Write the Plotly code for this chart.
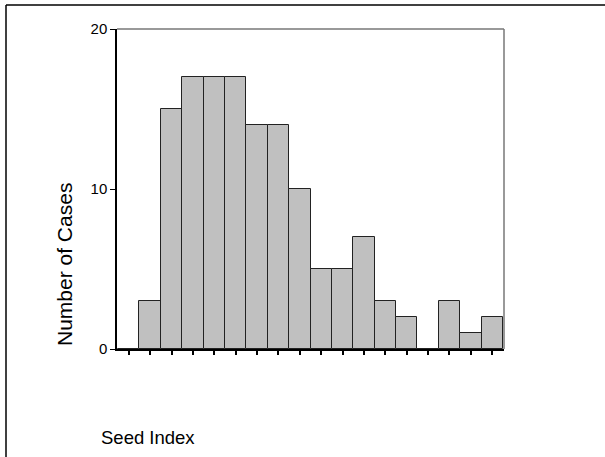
import plotly.graph_objects as go

# histogram counts per bin (Seed Index)
bins = list(range(18))
counts = [0, 3, 15, 17, 17, 17, 14, 14, 10, 5, 5, 7, 3, 2, 0, 3, 1, 2]
y_ticks = [0, 10, 20]

# plot area in pixels
L, R, T, B = 117, 504, 29, 349
W, H = 605, 457
pw, ph = R - L, B - T

def px(x):
    return (x - L) / pw

def py(y):
    return (B - y) / ph

fig = go.Figure()
fig.add_trace(go.Bar(
    x=bins, y=counts, width=1,
    marker=dict(color="#C0C0C0", line=dict(color="#222222", width=1)),
    showlegend=False, hoverinfo="y",
))

fig.update_layout(
    width=W, height=H,
    margin=dict(l=L, r=W - R, t=T, b=H - B, pad=0),
    paper_bgcolor="white", plot_bgcolor="white",
    font=dict(family="Liberation Sans, Arial", color="black", size=15),
    bargap=0,
    xaxis=dict(
        range=[-0.55, 17.55], tickvals=bins, ticktext=[""] * len(bins),
        ticks="outside", ticklen=4, tickwidth=1.5, tickcolor="black",
        showgrid=False, zeroline=False, showline=True, linecolor="black",
        linewidth=1.5, fixedrange=True,
    ),
    yaxis=dict(
        range=[0, 20], tickvals=y_ticks, ticks="outside", ticklen=5,
        tickcolor="black", tickwidth=1, showgrid=False, zeroline=False,
        showline=True, linecolor="black", linewidth=1.5,
        tickfont=dict(size=15), fixedrange=True,
    ),
    shapes=[
        # plot frame top and right
        dict(type="line", xref="paper", yref="paper", x0=0, x1=1, y0=1, y1=1,
             line=dict(color="#777777", width=1.5)),
        dict(type="line", xref="paper", yref="paper", x0=1, x1=1, y0=0, y1=1,
             line=dict(color="#777777", width=1.5)),
        # outer border (top and left)
        dict(type="line", xref="paper", yref="paper", x0=px(6), x1=px(605),
             y0=py(5), y1=py(5), line=dict(color="black", width=1.5)),
        dict(type="line", xref="paper", yref="paper", x0=px(6), x1=px(6),
             y0=py(5), y1=py(457), line=dict(color="black", width=1.5)),
    ],
    annotations=[
        dict(text="Number of Cases", xref="paper", yref="paper",
             x=px(64), y=py(265), textangle=-90, showarrow=False,
             font=dict(size=21), xanchor="center", yanchor="middle"),
        dict(text="Seed Index", xref="paper", yref="paper",
             x=px(99), y=py(437), showarrow=False,
             font=dict(size=18.5), xanchor="left", yanchor="middle"),
    ],
)

# drop the browser's default page margin so the figure sits at 0,0
fig.write_html("out.html", config={"displayModeBar": False},
               post_script="document.body.style.margin='0';")
